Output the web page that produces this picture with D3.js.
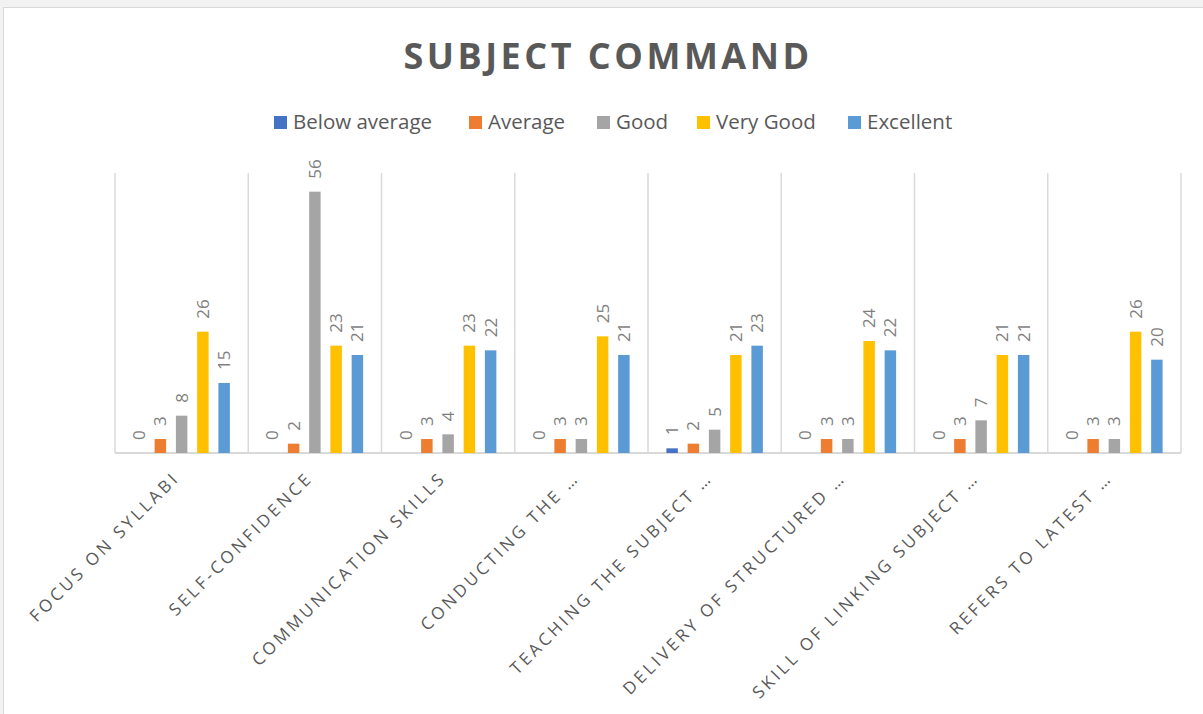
<!DOCTYPE html>
<html>
<head>
<meta charset="UTF-8">
<title>Subject Command</title>
<style>
  body { margin: 0; background: #f2f2f2; font-family: 'Open Sans', sans-serif; }
  svg { display: block; }
</style>
</head>
<body>
<div id="app"></div>
<script src="https://d3js.org/d3.v7.min.js"></script>
<script>
let categories = ['FOCUS ON SYLLABI', 'SELF-CONFIDENCE', 'COMMUNICATION SKILLS', 'CONDUCTING THE …',
  'TEACHING THE SUBJECT …', 'DELIVERY OF STRUCTURED …', 'SKILL OF LINKING SUBJECT …', 'REFERS TO LATEST …']
let seriesNames = ['Below average', 'Average', 'Good', 'Very Good', 'Excellent']
let belowAverage = [0, 0, 0, 0, 1, 0, 0, 0]
let average = [3, 2, 3, 3, 2, 3, 3, 3]
let good = [8, 56, 4, 3, 5, 3, 7, 3]
let veryGood = [26, 23, 23, 25, 21, 24, 21, 26]
let excellent = [15, 21, 22, 21, 23, 22, 21, 20]
let colors = ['#4472c4', '#ed7d31', '#a5a5a5', '#ffc000', '#5b9bd5']

let series = [belowAverage, average, good, veryGood, excellent]

let W = 1203
let H = 714
let plotLeft = 115, plotRight = 1181, plotTop = 173, plotBottom = 453

let svg = d3.select('#app').append('svg')
  .attr('width', W)
  .attr('height', H)

svg.append('rect')
  .attr('x', 3.5).attr('y', 7.5)
  .attr('width', W).attr('height', H)
  .attr('fill', '#fff')
  .attr('stroke', '#d9d9d9')

svg.append('text')
  .attr('x', 608).attr('y', 69)
  .attr('text-anchor', 'middle')
  .attr('fill', '#595959')
  .style('font-size', '36px')
  .style('font-weight', 'bold')
  .style('letter-spacing', '3.5px')
  .text('SUBJECT COMMAND')

// legend
let legendX = [274, 469, 597, 697, 848]
let legend = svg.append('g')
seriesNames.forEach((name, i) => {
  legend.append('rect')
    .attr('x', legendX[i]).attr('y', 116)
    .attr('width', 13).attr('height', 13)
    .attr('fill', colors[i])
  legend.append('text')
    .attr('x', legendX[i] + 19).attr('y', 129)
    .attr('fill', '#595959')
    .style('font-size', '20.5px')
    .text(name)
})

let x0 = d3.scaleBand().domain(categories).range([plotLeft, plotRight])
let x1 = d3.scaleBand().domain(d3.range(5)).range([0, 96.5]).paddingInner(0.46)
let y = d3.scaleLinear().domain([0, 60]).range([plotBottom, plotTop])

let grid = svg.append('g')
d3.range(categories.length + 1).forEach(i => {
  let gx = plotLeft + i * x0.step()
  grid.append('line')
    .attr('x1', gx).attr('x2', gx)
    .attr('y1', plotTop).attr('y2', plotBottom)
    .attr('stroke', '#d9d9d9').attr('stroke-width', 1.5)
})
grid.append('line')
  .attr('x1', plotLeft).attr('x2', plotRight)
  .attr('y1', plotBottom).attr('y2', plotBottom)
  .attr('stroke', '#d9d9d9').attr('stroke-width', 2)

let groups = svg.selectAll('g.cat')
  .data(categories).enter()
  .append('g').attr('class', 'cat')
  .attr('transform', c => 'translate(' + (x0(c) + x0.bandwidth() / 2 - 48.25) + ',0)')

groups.each(function(c, ci) {
  let g = d3.select(this)
  series.forEach((vals, si) => {
    let v = vals[ci]
    g.append('rect')
      .attr('x', x1(si))
      .attr('y', y(v))
      .attr('width', x1.bandwidth())
      .attr('height', plotBottom - y(v))
      .attr('fill', colors[si])
    let lx = x1(si) + x1.bandwidth() / 2 + 6
    let ly = y(v) - 13
    g.append('text')
      .attr('transform', 'translate(' + lx + ',' + ly + ') rotate(-90)')
      .attr('fill', '#7f7f7f')
      .style('font-size', '17px')
      .text(v)
  })
})

// category labels
svg.selectAll('text.cat')
  .data(categories).enter()
  .append('text').attr('class', 'cat')
  .attr('transform', c => 'translate(' + (x0(c) + x0.bandwidth() / 2 - 1) + ',479) rotate(-45)')
  .attr('text-anchor', 'end')
  .attr('fill', '#595959')
  .style('font-size', '17px')
  .style('letter-spacing', '3.2px')
  .text(c => c)
</script>
</body>
</html>
